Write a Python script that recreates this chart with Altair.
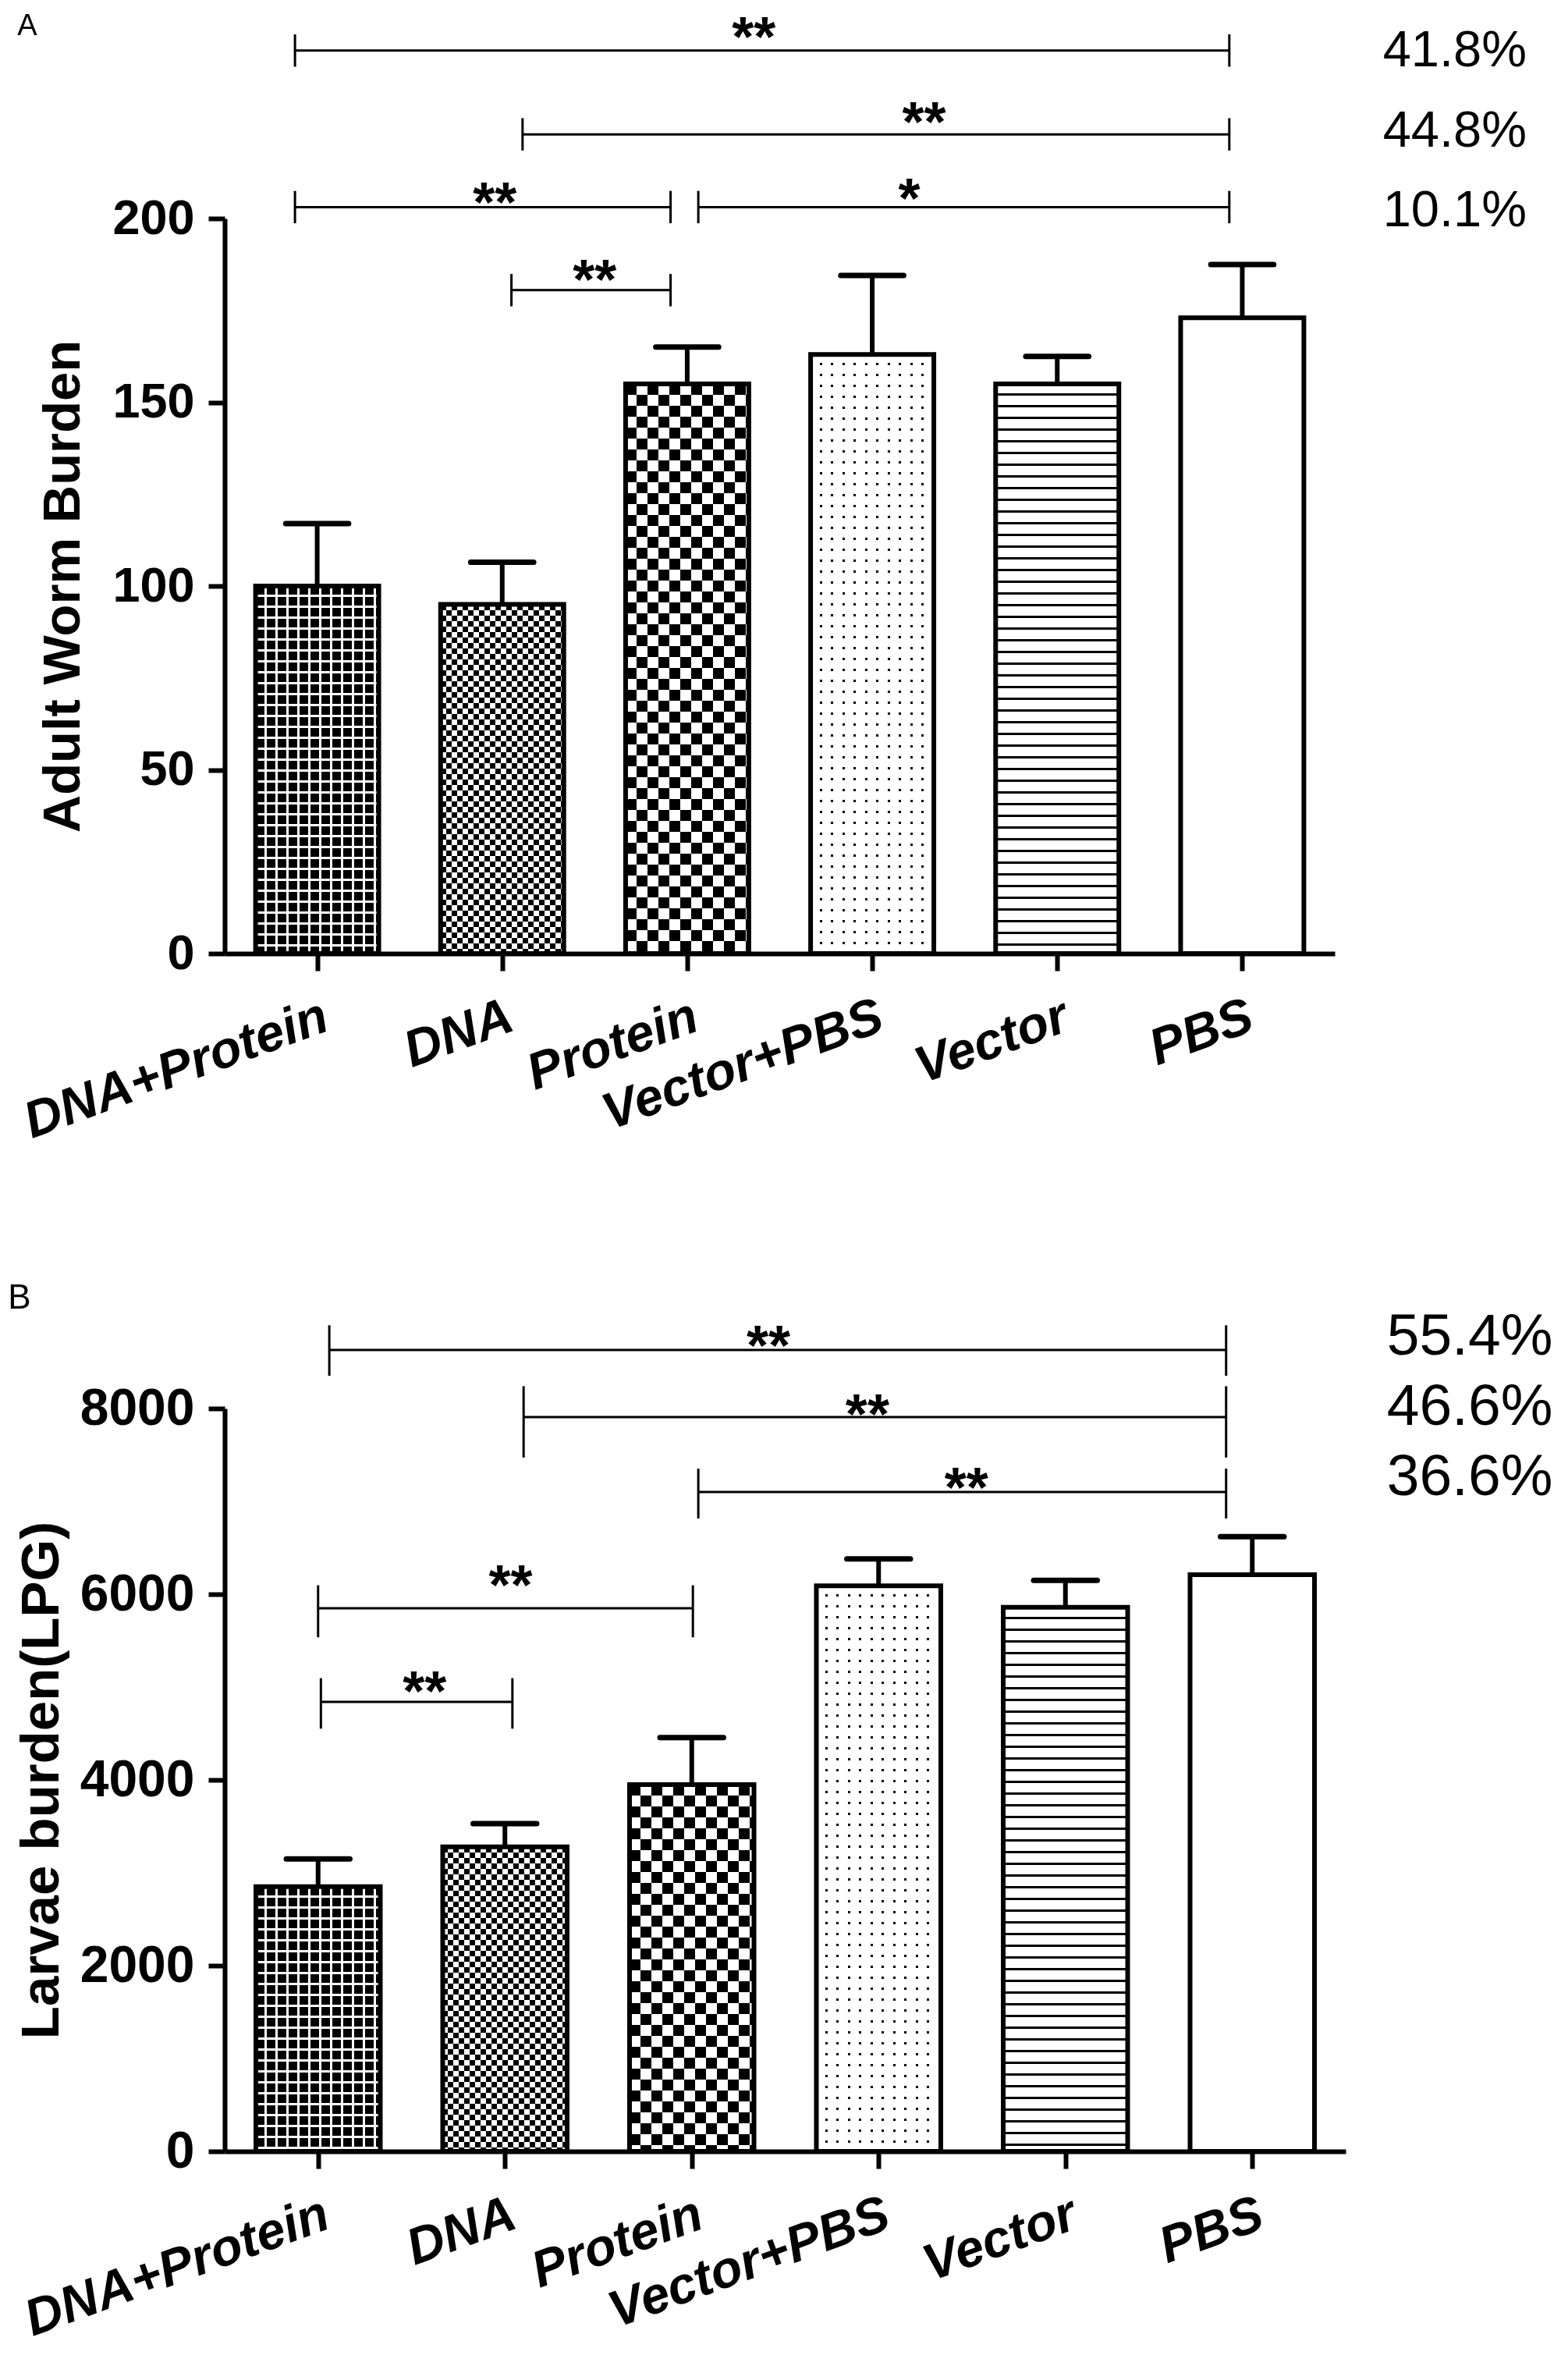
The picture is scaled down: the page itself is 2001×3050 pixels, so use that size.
import json
import altair as alt
import pandas as pd

FONT = "Liberation Sans"

# ---------------- data ----------------
cats = ["DNA+Protein", "DNA", "Protein", "Vector+PBS", "Vector", "PBS"]

a_mean = [100, 95, 155, 163, 155, 173]
a_err_top = [117, 106.5, 165, 184.5, 162.5, 187.5]

b_mean = [2850, 3280, 3950, 6090, 5860, 6210]
b_err_top = [3150, 3530, 4455, 6380, 6150, 6620]

# significance brackets (x in group-index units, y in data units)
a_br_x1 = [-0.12, 1.11, -0.12, 2.06, 1.05]
a_br_x2 = [4.93, 4.93, 1.91, 4.93, 1.91]
a_br_y = [245.7, 222.9, 203.1, 203.1, 180.5]
a_br_lo = [241.3, 218.5, 198.7, 198.7, 176.1]
a_br_hi = [250.1, 227.3, 207.5, 207.5, 184.9]
a_star = ["**", "**", "**", "*", "**"]
a_star_x = [2.36, 3.28, 0.96, 3.20, 1.50]
a_star_y = [245.6, 222.5, 200.6, 201.7, 179.6]
a_pct = ["41.8%", "44.8%", "10.1%"]
a_pct_y = [245.6, 223.7, 202.1]

b_br_x1 = [0.06, 1.10, 2.035, 0.0, 0.015]
b_br_x2 = [4.86, 4.86, 4.86, 2.006, 1.04]
b_br_y = [8630, 7908, 7100, 5849, 4840]
b_br_lo = [8352, 7472, 6816, 5536, 4552]
b_br_hi = [8896, 8240, 7352, 6096, 5096]
b_star = ["**", "**", "**", "**", "**"]
b_star_x = [2.41, 2.94, 3.47, 1.03, 0.57]
b_star_y = [8529, 7790, 7000, 5950, 4807]
b_pct = ["55.4%", "46.6%", "36.6%"]
b_pct_y = [8773, 8017, 7261]

a_yticks = [0, 50, 100, 150, 200]
b_yticks = [0, 2000, 4000, 6000, 8000]


# ---------------- pattern helpers (fill styling only) ----------------
def band_stops(pattern, total):
    stops = []
    pos = 0.0
    i = 0
    while pos < total - 1e-6:
        length, color = pattern[i % len(pattern)]
        end = min(pos + length, total)
        stops.append({"offset": round(pos / total, 5), "color": color})
        stops.append({"offset": round(end / total, 5), "color": color})
        pos = end
        i += 1
    return stops


def grad(pattern, total, along):
    if along == "x":
        x1, y1, x2, y2 = 0, 0, 1, 0
    else:
        x1, y1, x2, y2 = 0, 0, 0, 1
    return {"gradient": "linear", "x1": x1, "y1": y1, "x2": x2, "y2": y2,
            "stops": band_stops(pattern, total)}


BK, WH = "#000000", "#ffffff"
PATTERNS = {
    "DNA+Protein": ([(11, BK), (3, WH)], [(11, BK), (3, WH)], "lighten"),
    "DNA": ([(7, BK), (7, WH)], [(7, BK), (7, WH)], "difference"),
    "Protein": ([(14, BK), (14, WH)], [(14, BK), (14, WH)], "difference"),
    "Vector+PBS": ([(11.5, WH), (3, BK)], [(11, WH), (3, BK)], "lighten"),
}


def panel(means, errs, ppu, ymax, yticks, ytitle, title_size, tick_size, width, height,
          br_x1, br_x2, br_y, br_lo, br_hi, stars, star_x, star_y,
          pcts, pct_y, pct_x, pct_size, letter, letter_x, letter_y, letter_size,
          title_pad):
    df = pd.DataFrame({"cat": cats, "idx": list(range(len(cats))),
                       "mean": means, "err": errs})
    base = alt.Chart(df).transform_calculate(
        xl="datum.idx - 0.333", xr="datum.idx + 0.333", zero="0",
        cl="datum.idx - 0.17", cr="datum.idx + 0.17")

    label_expr = json.dumps(cats) + "[datum.value]"
    xaxis = alt.Axis(values=list(range(len(cats))), labelExpr=label_expr, title=None,
                     labelAngle=-20, labelAlign="right", labelBaseline="top",
                     labelFont=FONT, labelFontSize=66, labelFontWeight="bold",
                     labelFontStyle="italic", labelColor="black", labelPadding=26,
                     labelOverlap=False, labelFlush=False, labelLimit=1000,
                     tickSize=22, tickWidth=6, tickColor="black",
                     domainWidth=6, domainColor="black", grid=False)
    yaxis = alt.Axis(values=yticks, format="d", title=ytitle,
                     titleFont=FONT, titleFontSize=title_size, titleFontWeight="bold",
                     titleColor="black", titlePadding=title_pad,
                     labelFont=FONT, labelFontSize=tick_size, labelFontWeight="bold",
                     labelColor="black", labelPadding=18, labelOverlap=False,
                     tickSize=21, tickWidth=6, tickColor="black",
                     domainWidth=6, domainColor="black", grid=False)
    xs = alt.Scale(domain=[-0.5, 5.5], nice=False, zero=False)
    ys = alt.Scale(domain=[0, ymax], nice=False, zero=False)

    def X(f):
        return alt.X(f, scale=xs, axis=xaxis)

    def Y(f):
        return alt.Y(f, scale=ys, axis=yaxis)

    layers = []
    layers.append(base.mark_rect(fill="white", strokeWidth=0).encode(
        x=X("xl:Q"), x2="xr:Q", y=Y("mean:Q"), y2="zero:Q"))

    bar_w = 0.666 * width / 6.0
    for name, mval in zip(cats, means):
        h = mval * ppu
        sub = base.transform_filter(alt.datum.cat == name)
        enc = dict(x=X("xl:Q"), x2="xr:Q", y=Y("mean:Q"), y2="zero:Q")
        if name in PATTERNS:
            px, py, blend = PATTERNS[name]
            layers.append(sub.mark_rect(fill=grad(px, bar_w, "x"), strokeWidth=0).encode(**enc))
            layers.append(sub.mark_rect(fill=grad(py, h, "y"), strokeWidth=0,
                                        blend=blend).encode(**enc))
        elif name == "Vector":
            layers.append(sub.mark_rect(fill=grad([(12, WH), (3, BK)], h, "y"),
                                        strokeWidth=0).encode(**enc))

    # error stems
    layers.append(base.mark_rule(color="black", strokeWidth=6).encode(
        x=X("idx:Q"), y=Y("mean:Q"), y2="err:Q"))
    # bar outlines
    layers.append(base.mark_rect(fillOpacity=0, stroke="black", strokeWidth=6).encode(
        x=X("xl:Q"), x2="xr:Q", y=Y("mean:Q"), y2="zero:Q"))
    # error caps
    layers.append(base.mark_rule(color="black", strokeWidth=7, strokeCap="round").encode(
        x=X("cl:Q"), x2="cr:Q", y=Y("err:Q")))

    # significance brackets
    bdf = pd.DataFrame({"x1": br_x1, "x2": br_x2, "y": br_y, "lo": br_lo, "hi": br_hi})
    bch = alt.Chart(bdf)
    layers.append(bch.mark_rule(color="black", strokeWidth=3).encode(
        x=X("x1:Q"), x2="x2:Q", y=Y("y:Q")))
    layers.append(bch.mark_rule(color="black", strokeWidth=3).encode(
        x=X("x1:Q"), y=Y("lo:Q"), y2="hi:Q"))
    layers.append(bch.mark_rule(color="black", strokeWidth=3).encode(
        x=X("x2:Q"), y=Y("lo:Q"), y2="hi:Q"))

    sdf = pd.DataFrame({"s": stars, "x": star_x, "y": star_y})
    layers.append(alt.Chart(sdf).mark_text(font=FONT, fontSize=72, fontWeight="bold",
                                           color="black", align="center",
                                           baseline="alphabetic", dy=7).encode(
        x=X("x:Q"), y=Y("y:Q"), text="s:N"))

    pdf = pd.DataFrame({"p": pcts, "y": pct_y, "x": [pct_x] * len(pcts)})
    layers.append(alt.Chart(pdf).mark_text(font=FONT, fontSize=pct_size, color="black",
                                           align="left", baseline="middle").encode(
        x=X("x:Q"), y=Y("y:Q"), text="p:N"))

    ldf = pd.DataFrame({"t": [letter], "x": [letter_x], "y": [letter_y]})
    layers.append(alt.Chart(ldf).mark_text(font=FONT, fontSize=letter_size, color="black",
                                           align="left", baseline="alphabetic").encode(
        x=X("x:Q"), y=Y("y:Q"), text="t:N"))

    return alt.layer(*layers).properties(width=width, height=height)


chart_a = panel(a_mean, a_err_top, 942 / 200, 200, a_yticks, "Adult Worm Burden", 67, 63,
                1423, 942, a_br_x1, a_br_x2, a_br_y, a_br_lo, a_br_hi,
                a_star, a_star_x, a_star_y, a_pct, a_pct_y, 5.76, 65,
                "A", -1.62, 250.0, 38, 28)
chart_b = panel(b_mean, b_err_top, 952 / 8000, 8000, b_yticks, "Larvae burden(LPG)", 69, 66,
                1437, 952, b_br_x1, b_br_x2, b_br_y, b_br_lo, b_br_hi,
                b_star, b_star_x, b_star_y, b_pct, b_pct_y, 5.72, 75,
                "B", -1.66, 9076, 44, 14)

chart = alt.vconcat(chart_a, chart_b, spacing=170).properties(
    padding={"left": 2, "top": 6, "right": 0, "bottom": 0}, background="white"
).configure_view(strokeWidth=0)

chart.save("out.html", embed_options={"renderer": "svg", "actions": False})
